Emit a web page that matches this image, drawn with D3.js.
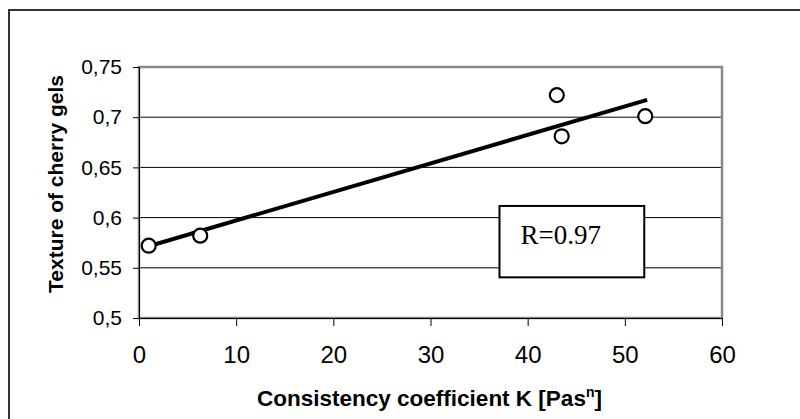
<!DOCTYPE html>
<html>
<head>
<meta charset="utf-8">
<script src="https://cdn.jsdelivr.net/npm/d3@7"></script>
<style>
  body { margin: 0; background: #fff; }
  svg { display: block; }
</style>
</head>
<body>
<script>
// data
var consistencyK = [1, 6.3, 43, 43.5, 52.1];
var texture      = [0.572, 0.582, 0.722, 0.681, 0.701];

var xTicks      = [0, 10, 20, 30, 40, 50, 60];
var yTicks      = [0.5, 0.55, 0.6, 0.65, 0.7, 0.75];
var yTickLabels = ["0,5", "0,55", "0,6", "0,65", "0,7", "0,75"];

var rLabel = "R=0.97";

var width  = 800;
var height = 419;
var margin = {top: 67, right: 78, bottom: 101, left: 139};

var cWidth  = width - margin.left - margin.right;
var cHeight = height - margin.top - margin.bottom;

var svg = d3.select("body").append("svg")
    .attr("width", width)
    .attr("height", height);

// outer chart border (runs off the picture on right and bottom)
svg.append("rect")
    .attr("x", 9).attr("y", 10)
    .attr("width", 800).attr("height", 420)
    .attr("fill", "none")
    .attr("stroke", "#333")
    .attr("stroke-width", 2);

var g = svg.append("g")
    .attr("transform", "translate(" + margin.left + "," + margin.top + ")");

var x = d3.scaleLinear().domain([0, 60]).range([0, cWidth]);
var y = d3.scaleLinear().domain([0.5, 0.75]).range([cHeight, 0]);

// gridlines
g.selectAll(".grid")
    .data(yTicks.slice(1, -1))
    .enter().append("line")
    .attr("x1", 0).attr("x2", cWidth)
    .attr("y1", function(d) { return y(d); })
    .attr("y2", function(d) { return y(d); })
    .attr("stroke", "#000")
    .attr("stroke-width", 1);

// plot area border
g.append("rect")
    .attr("x", 0).attr("y", 0)
    .attr("width", cWidth).attr("height", cHeight)
    .attr("fill", "none")
    .attr("stroke", "#888")
    .attr("stroke-width", 2.5);

// x axis
var xAxis = g.append("g")
    .attr("transform", "translate(0," + cHeight + ")")
    .call(d3.axisBottom(x).tickValues(xTicks).tickSize(8).tickPadding(20).tickSizeOuter(0));
xAxis.select(".domain").attr("stroke", "#000");
xAxis.selectAll("text")
    .attr("font-family", "Arial, 'Liberation Sans', sans-serif")
    .attr("font-size", 24)
    .attr("fill", "#000");

// y axis
var yAxis = g.append("g")
    .call(d3.axisLeft(y).tickValues(yTicks).tickSize(6).tickPadding(11).tickSizeOuter(0)
        .tickFormat(function(d, i) { return yTickLabels[i]; }));
yAxis.select(".domain").attr("stroke", "#000");
yAxis.selectAll("text")
    .attr("font-family", "Arial, 'Liberation Sans', sans-serif")
    .attr("font-size", 21)
    .attr("fill", "#000");

// linear trend line (least squares over the points)
var mx = d3.mean(consistencyK), my = d3.mean(texture);
var sxy = d3.sum(consistencyK, function(v, i) { return (v - mx) * (texture[i] - my); });
var sxx = d3.sum(consistencyK, function(v) { return (v - mx) * (v - mx); });
var slope = sxy / sxx, icpt = my - slope * mx;
var xExt = d3.extent(consistencyK);

g.append("line")
    .attr("x1", x(xExt[0])).attr("y1", y(icpt + slope * xExt[0]))
    .attr("x2", x(xExt[1])).attr("y2", y(icpt + slope * xExt[1]))
    .attr("stroke", "#000")
    .attr("stroke-width", 4)
    .attr("stroke-linecap", "square");

// points
g.selectAll(".pt")
    .data(consistencyK)
    .enter().append("circle")
    .attr("cx", function(d) { return x(d); })
    .attr("cy", function(d, i) { return y(texture[i]); })
    .attr("r", 7)
    .attr("fill", "#fff")
    .attr("stroke", "#000")
    .attr("stroke-width", 2.2);

// R box
var bx0 = x(37.1), bx1 = x(52.0), by0 = y(0.6116), by1 = y(0.5405);
g.append("rect")
    .attr("x", bx0).attr("y", by0)
    .attr("width", bx1 - bx0).attr("height", by1 - by0)
    .attr("fill", "#fff")
    .attr("stroke", "#000")
    .attr("stroke-width", 2);
g.append("text")
    .attr("x", bx0 + 21).attr("y", by0 + 38)
    .attr("font-family", "'Liberation Serif', 'Times New Roman', serif")
    .attr("font-size", 27)
    .text(rLabel);

// axis titles
var xTitle = svg.append("text")
    .attr("x", margin.left + cWidth / 2 - 1)
    .attr("y", 405.7)
    .attr("text-anchor", "middle")
    .attr("font-family", "Arial, 'Liberation Sans', sans-serif")
    .attr("font-weight", "bold")
    .attr("font-size", 22.5)
    .text("Consistency coefficient K [Pas");
xTitle.append("tspan")
    .attr("dy", -9)
    .attr("font-size", 14)
    .text("n");
xTitle.append("tspan")
    .attr("dy", 9)
    .text("]");

svg.append("text")
    .attr("transform", "translate(63,184) rotate(-90)")
    .attr("text-anchor", "middle")
    .attr("font-family", "Arial, 'Liberation Sans', sans-serif")
    .attr("font-weight", "bold")
    .attr("font-size", 21)
    .text("Texture of cherry gels");
</script>
</body>
</html>
